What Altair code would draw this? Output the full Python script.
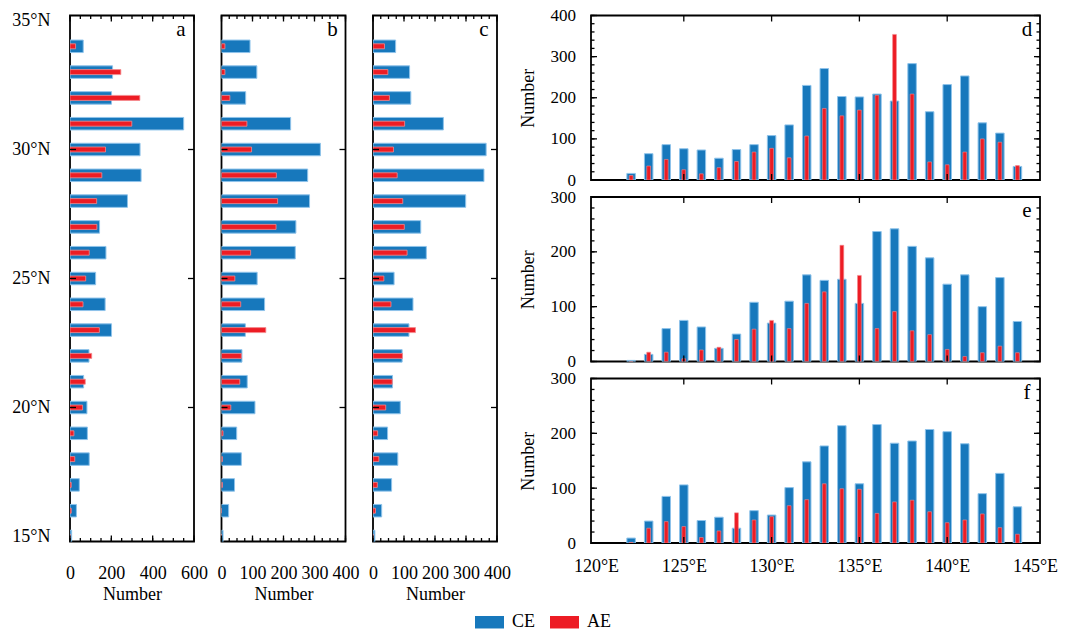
import altair as alt
import pandas as pd

FONT = "Liberation Serif"
BLUE = "#1778bc"
BLUE_EDGE = "#8ec3ea"
RED = "#ed1c24"
RED_EDGE = "#f48a8e"

# ---- latitude distributions (panels a-c), 15N..34N ----
LAT = list(range(15, 35))
a_ce = [8, 31, 45, 93, 84, 82, 66, 92, 201, 170, 124, 174, 143, 278, 344, 339, 550, 201, 206, 64]
a_ae = [0, 6, 6, 23, 19, 61, 74, 105, 142, 63, 76, 93, 130, 129, 154, 172, 299, 338, 246, 27]
b_ce = [5, 23, 42, 64, 49, 108, 83, 66, 77, 139, 115, 238, 240, 284, 278, 319, 223, 78, 114, 92]
b_ae = [0, 0, 3, 3, 5, 30, 59, 64, 143, 62, 43, 94, 176, 181, 177, 97, 82, 27, 11, 11]
c_ce = [6, 28, 60, 80, 47, 88, 63, 94, 116, 129, 68, 172, 154, 299, 358, 365, 227, 122, 118, 73]
c_ae = [0, 8, 14, 19, 15, 41, 62, 95, 137, 58, 35, 110, 101, 96, 78, 66, 102, 53, 48, 37]

# ---- longitude distributions (panels d-f), 122E..144E ----
LON = list(range(122, 145))
d_ce = [16, 64, 86, 76, 73, 53, 74, 86, 108, 134, 230, 271, 203, 202, 209, 192, 283, 166, 232, 253, 139, 114, 33]
d_ae = [11, 34, 50, 25, 15, 30, 45, 68, 77, 54, 107, 174, 156, 170, 206, 354, 209, 44, 37, 68, 100, 92, 35]
e_ce = [2, 13, 60, 75, 63, 24, 50, 108, 70, 110, 158, 148, 150, 106, 237, 242, 210, 189, 141, 158, 100, 153, 73]
e_ae = [0, 17, 17, 5, 21, 26, 40, 59, 75, 60, 106, 127, 212, 157, 60, 91, 56, 49, 22, 9, 16, 28, 16]
f_ce = [9, 40, 85, 106, 41, 47, 27, 59, 51, 101, 148, 177, 214, 108, 216, 182, 186, 207, 203, 181, 90, 127, 66]
f_ae = [1, 27, 39, 30, 10, 22, 55, 42, 48, 68, 79, 108, 99, 98, 54, 75, 78, 57, 37, 42, 53, 28, 16]

SERIES = ["CE", "AE"]

# axis tick positions
LAT_MAJOR = [15, 20, 25, 30, 35]
LON_LABELS = [120, 125, 130, 135, 140, 145]
LON_INNER = [125, 130, 135, 140]

color_scale = alt.Scale(domain=SERIES, range=[BLUE, RED])
legend = alt.Legend(
    title=None, orient="none", legendX=405, legendY=592, direction="horizontal",
    symbolType="M-1,-0.43H1V0.43H-1Z", symbolSize=841, symbolStrokeWidth=0,
    labelFont=FONT, labelFontSize=18, labelColor="black", labelOffset=8,
    columnPadding=14, padding=0,
)


def rules(field, vals, scale, axis, channel, side, length, W, H):
    df = pd.DataFrame({field: vals})
    c = alt.Chart(df).mark_rule(color="black", strokeWidth=1.3)
    if channel == "y":
        pos = alt.Y(f"{field}:Q", scale=scale, axis=axis)
        if side == "left":
            return c.encode(y=pos, x=alt.value(0), x2=alt.value(length))
        return c.encode(y=pos, x=alt.value(W), x2=alt.value(W - length))
    pos = alt.X(f"{field}:Q", scale=scale, axis=axis)
    if side == "top":
        return c.encode(x=pos, y=alt.value(0), y2=alt.value(length))
    return c.encode(x=pos, y=alt.value(H), y2=alt.value(H - length))


def letter(t, W):
    return alt.Chart(pd.DataFrame({"t": [t]})).mark_text(
        font=FONT, fontSize=21, align="center", baseline="middle", color="black"
    ).encode(x=alt.value(W - 13), y=alt.value(14), text="t:N")


def lat_panel(ce, ae, xmax, step, major, tag, show_y):
    W, H = 124, 526
    xs = alt.Scale(domain=[0, xmax], nice=False, zero=True)
    ys = alt.Scale(domain=[15, 35], nice=False, zero=False)
    xaxis = alt.Axis(values=major, ticks=False, domain=False, grid=False, labelPadding=23,
                     title="Number", titlePadding=3, labelFlush=False, labelOverlap=False)
    yaxis = alt.Axis(values=LAT_MAJOR, labelExpr="datum.value + '°N'", ticks=False, domain=False,
                     grid=False, labelPadding=20, title=None, labels=show_y)
    df_ce = pd.DataFrame({"lat": LAT, "n": ce, "s": "CE"})
    df_ae = pd.DataFrame({"lat": LAT, "n": ae, "s": "AE"})
    col = alt.Color("s:N", scale=color_scale, legend=legend)
    bar_ce = alt.Chart(df_ce).mark_bar(orient="horizontal", size=12.5, clip=True,
                                       stroke=BLUE_EDGE, strokeWidth=1).encode(
        x=alt.X("n:Q", scale=xs, axis=xaxis), y=alt.Y("lat:Q", scale=ys, axis=yaxis), color=col)
    bar_ae = alt.Chart(df_ae).mark_bar(orient="horizontal", size=5, clip=True,
                                       stroke=RED_EDGE, strokeWidth=0.8).encode(
        x=alt.X("n:Q", scale=xs, axis=xaxis), y=alt.Y("lat:Q", scale=ys, axis=yaxis), color=col)
    minor = list(range(0, xmax + 1, step))
    layers = [bar_ce, bar_ae]
    for side in ("top", "bottom"):
        layers.append(rules("n", minor, xs, xaxis, "x", side, 3.5, W, H))
        layers.append(rules("n", major, xs, xaxis, "x", side, 6, W, H))
    for side in ("left", "right"):
        layers.append(rules("lat", LAT_MAJOR[1:-1], ys, yaxis, "y", side, 6, W, H))
    layers.append(letter(tag, W))
    return alt.layer(*layers).properties(width=W, height=H)


def lon_panel(ce, ae, ymax, tag, show_x):
    W, H = 449, 164.5
    xs = alt.Scale(domain=[120, 145], nice=False, zero=False)
    ys = alt.Scale(domain=[0, ymax], nice=False, zero=True)
    xaxis = alt.Axis(values=LON_LABELS, labelExpr="datum.value + '°E'", ticks=False, domain=False,
                     grid=False, labelPadding=14, title=None, labels=show_x,
                     labelFlush=False, labelOverlap=False)
    yaxis = alt.Axis(values=list(range(0, ymax + 1, 100)), ticks=False, domain=False, grid=False,
                     labelPadding=15.5, labelFontSize=17, title="Number", titlePadding=13)
    df_ce = pd.DataFrame({"lon": LON, "n": ce, "s": "CE"})
    df_ae = pd.DataFrame({"lon": LON, "n": ae, "s": "AE"})
    col = alt.Color("s:N", scale=color_scale, legend=legend)
    bar_ce = alt.Chart(df_ce).mark_bar(orient="vertical", size=8.5, clip=True,
                                       stroke=BLUE_EDGE, strokeWidth=1).encode(
        x=alt.X("lon:Q", scale=xs, axis=xaxis), y=alt.Y("n:Q", scale=ys, axis=yaxis), color=col)
    bar_ae = alt.Chart(df_ae).mark_bar(orient="vertical", size=3.8, clip=True,
                                       stroke=RED_EDGE, strokeWidth=0.6).encode(
        x=alt.X("lon:Q", scale=xs, axis=xaxis), y=alt.Y("n:Q", scale=ys, axis=yaxis), color=col)
    layers = [bar_ce, bar_ae]
    for side in ("left", "right"):
        layers.append(rules("n", list(range(0, ymax + 1, 20)), ys, yaxis, "y", side, 3.5, W, H))
        layers.append(rules("n", list(range(0, ymax + 1, 100)), ys, yaxis, "y", side, 6, W, H))
    for side in ("top", "bottom"):
        layers.append(rules("lon", LON_INNER, xs, xaxis, "x", side, 6, W, H))
    layers.append(letter(tag, W))
    return alt.layer(*layers).properties(width=W, height=H)


pa = lat_panel(a_ce, a_ae, 600, 50, [0, 200, 400, 600], "a", True)
pb = lat_panel(b_ce, b_ae, 400, 25, [0, 100, 200, 300, 400], "b", False)
pc = lat_panel(c_ce, c_ae, 400, 25, [0, 100, 200, 300, 400], "c", False)
pdd = lon_panel(d_ce, d_ae, 400, "d", False)
pe = lon_panel(e_ce, e_ae, 300, "e", False)
pf = lon_panel(f_ce, f_ae, 300, "f", True)

left = alt.hconcat(pa, pb, pc, spacing=27.5, bounds="flush").resolve_scale(
    x="independent", y="independent", color="shared")
right = alt.vconcat(pdd, pe, pf, spacing=16.5, bounds="flush").resolve_scale(
    x="independent", y="independent", color="shared")

chart = alt.hconcat(left, right, spacing=6, bounds="full").resolve_scale(
    x="independent", y="independent", color="shared"
).properties(
    padding={"left": 10, "top": 5.5, "right": 0, "bottom": 0},
    background="white",
).configure_view(
    stroke="black", strokeWidth=1.8
).configure_axis(
    labelFont=FONT, labelFontSize=18, labelColor="black",
    titleFont=FONT, titleFontSize=18, titleFontWeight="normal", titleColor="black",
)

chart.save("out.html", embed_options={"renderer": "svg", "actions": False})
